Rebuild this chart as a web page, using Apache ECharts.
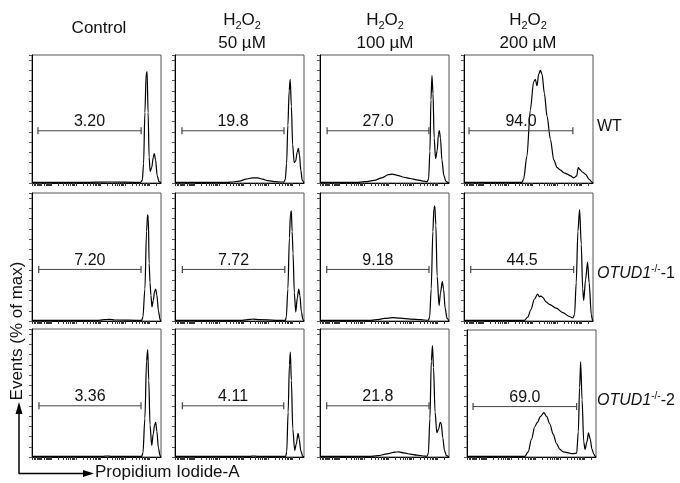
<!DOCTYPE html>
<html>
<head>
<meta charset="utf-8">
<script src="https://cdn.jsdelivr.net/npm/echarts@6/dist/echarts.min.js"></script>
<style>
  html, body { margin: 0; padding: 0; background: #fff; }
  #chart { width: 680px; height: 483px; }
</style>
</head>
<body>
<div id="chart"></div>
<script>
// Concentraciones (columnas) y genotipos (filas)
const concentrations = ['Control', '50 µM', '100 µM', '200 µM'];
const genotypes = ['WT', 'OTUD1-1', 'OTUD1-2'];

// Porcentajes de la compuerta sub-G1
const gateLabels = [
    ['3.20', '19.8', '27.0', '94.0'],
    ['7.20', '7.72', '9.18', '44.5'],
    ['3.36', '4.11', '21.8', '69.0']
];
const gateStart = [
    [4.6, 5.4, 5.5, 3.9],
    [5.2, 5.7, 5.2, 5.2],
    [5.4, 5.7, 5.2, 4.7]
];
const gateEnd = [
    [84.6, 84.5, 84.4, 84.4],
    [84.5, 85.1, 84.5, 85.0],
    [84.5, 84.3, 84.5, 85.0]
];
const gateLevel = [
    [40.8, 40.8, 40.8, 40.8],
    [40.3, 40.3, 40.3, 40.3],
    [40.0, 40.0, 40.0, 39.7]
];

// Histogramas: [posición PI (0-100), eventos (% de la altura)]
const wtControl = [[0,0.5],[40,0.5],[60,0.8],[84,0.5],[85.5,2],[86.5,15],[87.5,55],[88.5,85],[89.2,87],[90,55],[90.8,20],[91.6,9],[92.8,12],[94,20],[94.8,23],[95.8,18],[97,6],[98.5,1],[100,0]];
const wt50 = [[0,0.5],[40,0.5],[45,0.8],[50,1.5],[55,3],[60,4],[64,4],[68,3],[72,1.8],[78,1],[82,0.8],[84.5,0.8],[85.5,3],[86.5,15],[87.5,45],[88.5,72],[89.3,81],[90.2,60],[91.2,30],[92.4,16],[93.5,17],[94.7,24],[95.6,27],[96.5,22],[97.5,10],[98.7,2],[100,0]];
const wt100 = [[0,0.5],[28,0.5],[35,1],[42,2],[48,4],[53,6.5],[56,7],[60,6],[65,4.5],[70,3.5],[75,2.5],[80,1.5],[83,1],[84.2,3],[85.2,25],[86,65],[86.8,84],[87.6,70],[88.5,35],[89.6,19],[90.8,25],[91.8,38],[92.5,41],[93.4,35],[94.5,18],[96,6],[97.5,1.5],[99,0.5],[100,0]];
const wt200 = [[0,0.5],[44.9,0.5],[46.2,3],[48.8,21],[51.4,57],[54,79],[55.3,81],[56.6,76],[57.9,85],[59.2,88],[60.5,85],[62.3,70],[64.4,52],[67,34],[69.6,18],[72.2,12],[74.8,10],[77.4,8],[80,7],[82.6,5.5],[85.2,4],[87.3,5.5],[88.6,12],[89.9,10.5],[91.7,8.6],[94.3,6.8],[96.9,3],[99.5,0.5],[100,0]];
const ko1Control = [[0,0.5],[50,0.5],[56,1],[60,1.3],[64,0.8],[85,0.5],[86,3],[87.5,25],[88.8,70],[89.6,83],[90.2,80],[90.8,45],[91.5,30],[92.2,20],[93,11],[94,16],[95,23],[95.9,25],[96.8,20],[98,8],[99.3,1],[100,0]];
const ko150 = [[0,0.5],[52,0.5],[58,1.2],[61,1.5],[65,1],[85.5,0.5],[86.3,3],[87.5,25],[88.7,65],[89.5,84],[90.2,86],[90.8,70],[91.5,53],[92.5,22],[93.6,7],[94.8,18],[95.9,25],[96.8,20],[98,7],[99.2,1],[100,0]];
const ko1100 = [[0,0.5],[38,0.5],[44,1],[50,2],[56,2.6],[62,2.2],[70,1.5],[78,1],[84,0.6],[85,3],[86.2,25],[87.5,70],[88.3,88],[89,90],[89.8,75],[90.8,35],[92.3,12],[93.4,22],[94.8,31],[95.8,25],[97,10],[98.5,2],[100,0]];
const ko1200 = [[0,0.5],[46.8,0.5],[49.4,3],[51.9,9],[54.5,17],[57.1,21],[58.4,19],[59.7,19.5],[61,18.5],[63.6,15],[66.2,13],[71.4,10],[76.6,6.5],[81.8,3.5],[84.4,2.5],[85.7,5],[87,30],[88.3,70],[89.6,87],[90.9,60],[92,25],[92.8,16],[94.2,32],[95.8,46],[97,30],[98.7,5],[99.5,1],[100,0]];
const ko2Control = [[0,0.5],[55,0.5],[58,0.8],[62,0.5],[85,0.5],[86,3],[87.5,30],[88.8,75],[89.7,84],[90.5,60],[91.5,25],[92.8,9],[94,18],[95,25],[95.9,27],[96.8,20],[98,7],[99.3,1],[100,0]];
const ko250 = [[0,0.5],[58,0.5],[61,0.8],[64,0.5],[85.8,0.5],[86.6,4],[87.7,35],[88.7,72],[89.4,82],[90.2,60],[91.3,22],[92.8,5],[94,10],[95.4,18.5],[96.3,14],[97.5,5],[99,0.5],[100,0]];
const ko2100 = [[0,0.5],[38,0.5],[45,1],[52,2.5],[58,3.8],[61,4],[65,3.2],[70,2.3],[75,1.5],[80,0.8],[83,0.6],[84,3],[85.2,30],[86.3,75],[87.2,87],[88,70],[89.2,35],[90.6,19],[92,22],[93.2,27],[94,26],[95.2,15],[96.5,5],[98,1],[100,0]];
const ko2200 = [[0,0.5],[44.8,0.5],[47.4,4],[50,14],[52.6,24],[54.4,27],[57,32],[59.6,35],[61.7,32],[64.2,26],[66.8,18],[69.4,10.6],[72,6],[74.6,4],[82.4,2.6],[85,3],[86.3,20],[87.3,55],[88.1,75],[89.2,45],[90.5,12],[91.5,6],[93,12],[94.2,19],[95.5,14],[96.9,6],[98.4,2],[99.5,0.5],[100,0]];

const histograms = [
    [wtControl, wt50, wt100, wt200],
    [ko1Control, ko150, ko1100, ko1200],
    [ko2Control, ko250, ko2100, ko2200]
];

// Marcas del eje PI (décadas logarítmicas)
const decadeStarts = [15, 34, 53, 72, 91];
const decadeWidth = 19;
const xTicks = [0, 1.5, 2.8, 3.8, 4.6, 5.3, 5.9, 6.4, 6.9, 7.5, 9.8, 11.1, 12, 12.7, 13.3, 13.8, 14.3, 14.7];
decadeStarts.forEach(function(d) {
    for (let k = 1; k <= 9; k++) {
        const p = d + decadeWidth * Math.log10(k);
        if (p <= 100) xTicks.push(Math.round(p * 10) / 10);
    }
});

const FONT = '"Liberation Sans", Arial, sans-serif';
const INK = '#000';
const TEXT = '#111';

const colLeft = [32, 175, 320, 464];
const colCenter = [99, 242, 385, 528];
const rowTop = [55, 193, 329];
const rowLabelY = [127, 274, 401];

const chart = echarts.init(document.getElementById('chart'));

const grids = [], xAxes = [], yAxes = [], series = [];
for (let r = 0; r < 3; r++) {
    for (let c = 0; c < 4; c++) {
        const i = r * 4 + c;
        let box = { left: colLeft[c], top: rowTop[r], width: 129, height: 128 };
        if (r === 2 && c === 3) box = { left: 467, top: 330, width: 129, height: 127 };
        grids.push(Object.assign({ show: true, borderColor: '#555', borderWidth: 1, backgroundColor: '#fff' }, box));
        xAxes.push({
            type: 'value', gridIndex: i, min: 0, max: 100,
            axisLine: { show: true, lineStyle: { color: '#000', width: 1 } },
            axisTick: { show: true, customValues: xTicks, length: 3, lineStyle: { color: '#333' } },
            axisLabel: { show: false },
            splitLine: { show: false }
        });
        yAxes.push({
            type: 'value', gridIndex: i, min: 0, max: 100, interval: 8,
            axisLine: { show: true, lineStyle: { color: '#000', width: 1 } },
            axisTick: { show: true, length: 3, lineStyle: { color: '#555' } },
            axisLabel: { show: false },
            splitLine: { show: false }
        });
        series.push({
            type: 'line', xAxisIndex: i, yAxisIndex: i,
            data: histograms[r][c],
            showSymbol: false, smooth: 0.3, smoothMonotone: 'x',
            lineStyle: { color: INK, width: 1.2 },
            silent: true, animation: false
        });
        const s = gateStart[r][c], e = gateEnd[r][c], lv = gateLevel[r][c];
        series.push({
            type: 'line', xAxisIndex: i, yAxisIndex: i,
            data: [[s, lv], [e, lv]],
            symbol: 'rect', symbolSize: [1.2, 7], showSymbol: true,
            itemStyle: { color: '#444' },
            lineStyle: { color: '#444', width: 1 },
            silent: true, animation: false, z: 3
        });
        series.push({
            type: 'scatter', xAxisIndex: i, yAxisIndex: i,
            data: [[(s + e) / 2, lv]],
            symbolSize: 0,
            itemStyle: { color: TEXT, opacity: 1 },
            label: {
                show: true, position: 'top', distance: 1,
                formatter: gateLabels[r][c],
                fontFamily: FONT, fontSize: 16, color: TEXT, opacity: 1
            },
            silent: true, animation: false, z: 4
        });
    }
}

// Títulos de columnas, filas y ejes
const graphics = [];
graphics.push({ type: 'text', x: colCenter[0], y: 28,
    style: { text: concentrations[0], font: '17px ' + FONT, fill: TEXT, align: 'center', verticalAlign: 'middle' } });
for (let c = 1; c < 4; c++) {
    graphics.push({ type: 'text', x: colCenter[c], y: 20,
        style: {
            text: '{n|H}{s|2}{n|O}{s|2}', align: 'center', verticalAlign: 'middle', fill: TEXT,
            rich: {
                n: { fontFamily: FONT, fontSize: 17, lineHeight: 22, fill: TEXT },
                s: { fontFamily: FONT, fontSize: 11, lineHeight: 12, verticalAlign: 'bottom', fill: TEXT }
            }
        } });
    graphics.push({ type: 'text', x: colCenter[c], y: 43,
        style: { text: concentrations[c], font: '17px ' + FONT, fill: TEXT, align: 'center', verticalAlign: 'middle' } });
}
graphics.push({ type: 'text', x: 597, y: rowLabelY[0],
    style: { text: genotypes[0], font: '16px ' + FONT, fill: TEXT, align: 'left', verticalAlign: 'middle' } });
for (let r = 1; r < 3; r++) {
    const suffix = genotypes[r].slice(5);
    graphics.push({ type: 'text', x: 597, y: rowLabelY[r],
        style: {
            text: '{i|OTUD1}{p|-/-}{n|' + suffix + '}', align: 'left', verticalAlign: 'middle', fill: TEXT,
            rich: {
                i: { fontFamily: FONT, fontSize: 16, fontStyle: 'italic', lineHeight: 20, fill: TEXT },
                p: { fontFamily: FONT, fontSize: 10, lineHeight: 14, verticalAlign: 'top', fill: TEXT },
                n: { fontFamily: FONT, fontSize: 16, lineHeight: 20, fill: TEXT }
            }
        } });
}
graphics.push({ type: 'text', x: 17, y: 331, rotation: Math.PI / 2,
    style: { text: 'Events (% of max)', font: '17px ' + FONT, fill: TEXT, align: 'center', verticalAlign: 'middle' } });
graphics.push({ type: 'text', x: 95, y: 472,
    style: { text: 'Propidium Iodide-A', font: '17px ' + FONT, fill: TEXT, align: 'left', verticalAlign: 'middle' } });
// Flechas de los ejes
graphics.push({ type: 'line', shape: { x1: 19, y1: 474, x2: 19, y2: 412 }, style: { stroke: '#000', lineWidth: 1.5 } });
graphics.push({ type: 'polygon', shape: { points: [[15.5, 414], [22.5, 414], [19, 402]] }, style: { fill: '#000' } });
graphics.push({ type: 'line', shape: { x1: 19, y1: 473.5, x2: 85, y2: 473.5 }, style: { stroke: '#000', lineWidth: 1.5 } });
graphics.push({ type: 'polygon', shape: { points: [[83, 470], [83, 477], [94, 473.5]] }, style: { fill: '#000' } });

chart.setOption({
    animation: false,
    grid: grids,
    xAxis: xAxes,
    yAxis: yAxes,
    series: series,
    graphic: graphics
});

window.addEventListener('resize', function() {
    chart.resize();
});
</script>
</body>
</html>
